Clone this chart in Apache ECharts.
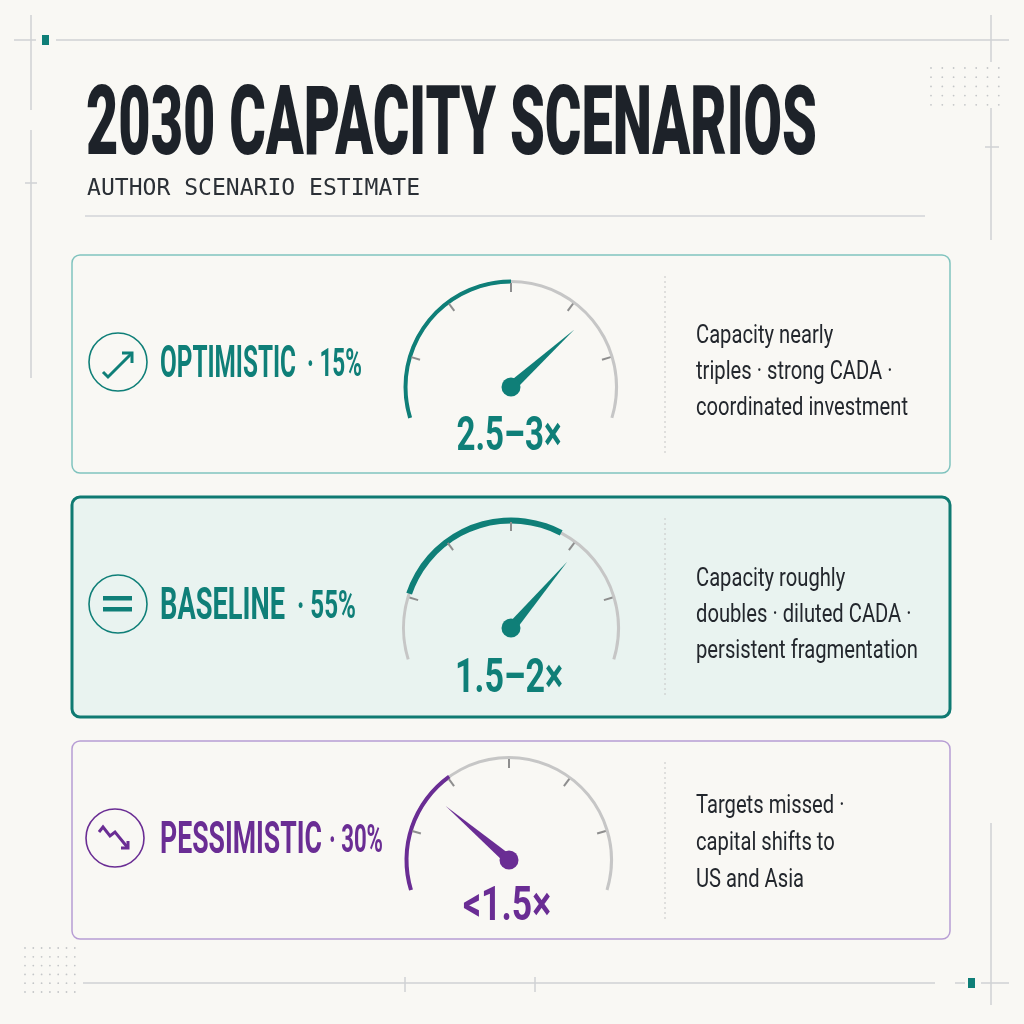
<!DOCTYPE html>
<html>
<head>
<meta charset="utf-8">
<title>2030 Capacity Scenarios</title>
<script src="https://cdn.jsdelivr.net/npm/echarts@6/dist/echarts.min.js"></script>
<style>
html, body { margin: 0; padding: 0; background: #f9f8f4; }
#main { width: 1024px; height: 1024px; }
</style>
</head>
<body>
<div id="main"></div>
<script>
// ---- data ----
var scenarios = ['OPTIMISTIC', 'BASELINE', 'PESSIMISTIC'];
var shares = ['15%', '55%', '30%'];
var multipliers = ['2.5–3×', '1.5–2×', '<1.5×'];
var needleValues = [4.34, 4.13, 1.61];   // gauge scale 0..6
var bandFrom = [0, 1, 0];
var bandTo = [3, 3.78, 2];
var notes = [
    ['Capacity nearly', 'triples · strong CADA ·', 'coordinated investment'],
    ['Capacity roughly', 'doubles · diluted CADA ·', 'persistent fragmentation'],
    ['Targets missed ·', 'capital shifts to', 'US and Asia']
];

// ---- layout ----
var TEAL = '#0f7f78', PURPLE = '#6a2d94', INK = '#1d2229';
var cards = [
    {y: 255, h: 218, border: '#80c3be', bw: 1.5, fill: '#f9f8f4', color: TEAL, cx: 511, cy: 387, r: 107, band: 4,
     icon: [118, 362], nameY: 364, nameW: 136, shareX: 307, shareW: 55, valY: 436, valW: 105, noteY: [336, 372, 408]},
    {y: 497, h: 220, border: '#0f7a72', bw: 3, fill: '#e9f3f0', color: TEAL, cx: 511, cy: 628, r: 109, band: 6,
     icon: [118, 604], nameY: 606, nameW: 125, shareX: 297, shareW: 59, valY: 678, valW: 108, noteY: [579, 615, 651]},
    {y: 741, h: 198, border: '#b79dd4', bw: 1.5, fill: '#f9f8f4', color: PURPLE, cx: 509, cy: 860, r: 104, band: 4,
     icon: [115, 838], nameY: 840, nameW: 162, shareX: 329, shareW: 54, valY: 906, valW: 88, noteY: [806, 843, 880]}
];

var ctx = document.createElement('canvas').getContext('2d');
function fit(text, font, target) {
    ctx.font = font;
    return target / ctx.measureText(text).width;
}
function txt(x, y, s, family, size, weight, color, align, sx) {
    return {
        type: 'text', x: x, y: y + size * 0.04, scaleX: sx || 1, z: 10,
        style: {text: s, fontFamily: family, fontSize: size, fontWeight: weight,
                fill: color, align: align || 'left', verticalAlign: 'middle'}
    };
}
function line(x1, y1, x2, y2, color, w, dash) {
    return {type: 'line', z: 1, shape: {x1: x1, y1: y1, x2: x2, y2: y2},
            style: {stroke: color, lineWidth: w || 1.5, lineDash: dash || null}};
}
function poly(points, color) {
    return {type: 'polyline', z: 11, shape: {points: points},
            style: {stroke: color, lineWidth: 3, fill: null, lineJoin: 'miter', lineCap: 'butt'}};
}

var graphics = [];
var G = '#cfd2d4';

// frame decorations
graphics.push(line(14, 40, 36, 40, G), line(56, 40, 1009, 40, G));
graphics.push({type: 'rect', z: 2, shape: {x: 42, y: 35, width: 7, height: 10}, style: {fill: TEAL}});
graphics.push(line(31, 15, 31, 110, G), line(31, 130, 31, 378, G), line(25, 183, 37, 183, G));
graphics.push(line(991, 15, 991, 62, G), line(991, 108, 991, 240, G), line(985, 147, 999, 147, G));
graphics.push(line(85, 216, 925, 216, '#d2d5d8'));
graphics.push(line(83, 983, 935, 983, G), line(405, 977, 405, 992, G), line(535, 977, 535, 992, G));
graphics.push(line(955, 983, 965, 983, G), line(981, 983, 1009, 983, G), line(991, 823, 991, 1005, G));
graphics.push({type: 'rect', z: 2, shape: {x: 968, y: 978, width: 7, height: 10}, style: {fill: TEAL}});
for (var r = 0; r < 5; r++) {
    for (var c = 0; c < 7; c++) {
        graphics.push({type: 'circle', z: 1, shape: {cx: 931 + c * 11.3, cy: 68 + r * 9.2, r: 0.9}, style: {fill: '#c4c6c8'}});
    }
}
for (var r2 = 0; r2 < 6; r2++) {
    for (var c2 = 0; c2 < 7; c2++) {
        graphics.push({type: 'circle', z: 1, shape: {cx: 25 + c2 * 8.3, cy: 948 + r2 * 8.8, r: 0.9}, style: {fill: '#c4c6c8'}});
    }
}

// title
var titleFont = '900 96px Roboto';
graphics.push(txt(86, 126, '2030 CAPACITY SCENARIOS', 'Roboto', 96, 900, INK, 'left',
    fit('2030 CAPACITY SCENARIOS', titleFont, 731)));
graphics.push(txt(87, 188, 'AUTHOR SCENARIO ESTIMATE', 'DejaVu Sans Mono', 23, 'normal', '#2b3036', 'left',
    fit('AUTHOR SCENARIO ESTIMATE', '23px "DejaVu Sans Mono"', 333)));

var noteScale = fit('coordinated investment', '25px Roboto', 212);

var series = [];
cards.forEach(function (cd, i) {
    // card box
    graphics.push({type: 'rect', z: 0, shape: {x: 72, y: cd.y, width: 878, height: cd.h, r: 8},
        style: {fill: cd.fill, stroke: cd.border, lineWidth: cd.bw}});
    graphics.push(line(665, cd.y + 21, 665, cd.y + cd.h - 20, '#c6c6c6', 1, [2, 3]));

    // icon
    graphics.push({type: 'circle', z: 11, shape: {cx: cd.icon[0], cy: cd.icon[1], r: 29},
        style: {fill: null, stroke: cd.color, lineWidth: 1.6}});
    var ix = cd.icon[0], iy = cd.icon[1];
    if (i === 0) {
        graphics.push(poly([[ix - 15, iy + 10], [ix - 10, iy + 15], [ix + 14, iy - 9]], cd.color));
        graphics.push(poly([[ix + 4, iy - 9], [ix + 14, iy - 9], [ix + 14, iy + 1]], cd.color));
    } else if (i === 1) {
        graphics.push({type: 'rect', z: 11, shape: {x: ix - 15, y: iy - 8, width: 29, height: 4.5}, style: {fill: cd.color}});
        graphics.push({type: 'rect', z: 11, shape: {x: ix - 15, y: iy + 3, width: 29, height: 4.5}, style: {fill: cd.color}});
    } else {
        graphics.push(poly([[ix - 16, iy - 6], [ix - 12, iy - 11], [ix - 5, iy - 2], [ix, iy - 6], [ix + 13, iy + 10]], cd.color));
        graphics.push(poly([[ix + 6, iy + 10], [ix + 13, iy + 10], [ix + 13, iy + 3]], cd.color));
    }

    // labels
    var nameFont = 'bold 45px Roboto';
    graphics.push(txt(160, cd.nameY, scenarios[i], 'Roboto', 45, 'bold', cd.color, 'left',
        fit(scenarios[i], nameFont, cd.nameW)));
    var shareText = '· ' + shares[i];
    graphics.push(txt(cd.shareX, cd.nameY + 1, shareText, 'Roboto', 38, 'bold', cd.color, 'left',
        fit(shareText, 'bold 38px Roboto', cd.shareW)));
    graphics.push(txt(cd.cx - 2, cd.valY, multipliers[i], 'Roboto', 48, 'bold', cd.color, 'center',
        fit(multipliers[i], 'bold 48px Roboto', cd.valW)));
    notes[i].forEach(function (s, k) {
        graphics.push(txt(696, cd.noteY[k], s, 'Roboto', 25, 'normal', '#23272d', 'left', noteScale));
    });

    var common = {
        type: 'gauge', center: [cd.cx, cd.cy], startAngle: 197, endAngle: -17, min: 0, max: 6,
        splitNumber: 6, animation: false, silent: true,
        axisTick: {show: false}, axisLabel: {show: false}, splitLine: {show: false},
        pointer: {show: false}, anchor: {show: false}, title: {show: false}, detail: {show: false}
    };
    // grey arc
    series.push(Object.assign({}, common, {
        radius: cd.r,
        axisLine: {lineStyle: {width: 3, color: [[1, '#c6c6c6']]}},
        data: [{value: 0}]
    }));
    // coloured band
    series.push(Object.assign({}, common, {
        radius: cd.r + (cd.band - 3) / 2,
        axisLine: {lineStyle: {width: cd.band, color: [
            [bandFrom[i] / 6, 'rgba(0,0,0,0)'], [bandTo[i] / 6, cd.color], [1, 'rgba(0,0,0,0)']]}},
        data: [{value: 0}]
    }));
    // tick marks
    series.push(Object.assign({}, common, {
        radius: cd.r, startAngle: 163.3, endAngle: 16.7, splitNumber: 4,
        axisLine: {show: false, lineStyle: {width: 3}},
        splitLine: {show: true, distance: 0, length: 9, lineStyle: {color: '#8e8e8e', width: 2}},
        data: [{value: 0}]
    }));
    // needle
    series.push(Object.assign({}, common, {
        radius: cd.r,
        axisLine: {show: false},
        pointer: {show: true, icon: 'path://M0 100 L1 0 L2 100 Z', length: '80%', width: 10,
                  itemStyle: {color: cd.color}},
        anchor: {show: true, showAbove: true, size: 19, itemStyle: {color: cd.color}},
        data: [{value: needleValues[i]}]
    }));
});

var chart = echarts.init(document.getElementById('main'));
chart.setOption({
    backgroundColor: '#f9f8f4',
    animation: false,
    graphic: {elements: graphics},
    series: series
});
</script>
</body>
</html>
